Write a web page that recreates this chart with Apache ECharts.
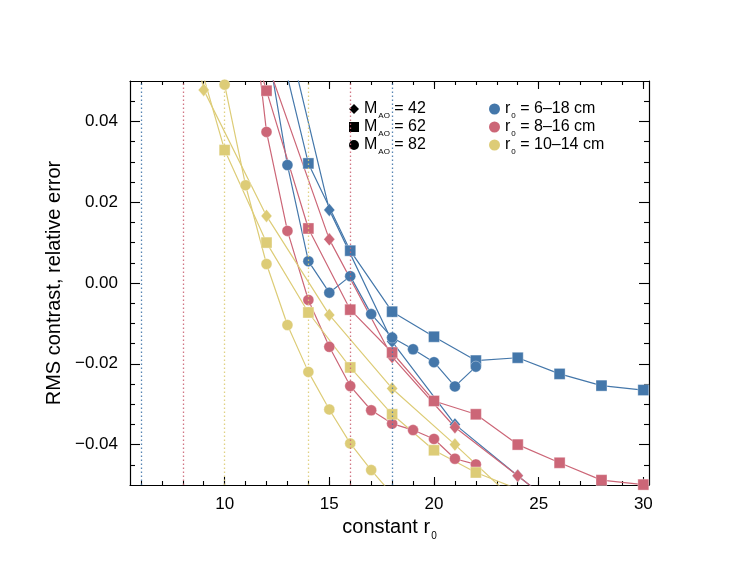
<!DOCTYPE html>
<html><head><meta charset="utf-8">
<script src="https://cdn.jsdelivr.net/npm/echarts@6/dist/echarts.min.js"></script>
<style>html,body{margin:0;padding:0;background:#fff}#c{width:747px;height:578px}</style>
</head><body><div id="c"></div>
<script>
// ---- data ----
const blueDx = [12, 15, 18, 21, 24, 27];
const blueDy = [0.083, 0.0181, -0.0145, -0.0350, -0.0477, -0.060];
const blueSx = [12, 14, 16, 18, 20, 22, 24, 26, 28, 30];
const blueSy = [0.0725, 0.0296, 0.0080, -0.0071, -0.0133, -0.0192, -0.0185, -0.0225, -0.0254, -0.0265];
const blueCx = [12, 13, 14, 15, 16, 17, 18, 19, 20, 21, 22];
const blueCy = [0.060, 0.0292, 0.0054, -0.0024, 0.0017, -0.0077, -0.0135, -0.0164, -0.0196, -0.0256, -0.0207];

const redDx = [12, 15, 18, 21, 24, 27];
const redDy = [0.055, 0.0108, -0.0183, -0.0357, -0.0477, -0.060];
const redSx = [10, 12, 14, 16, 18, 20, 22, 24, 26, 28, 30];
const redSy = [0.082, 0.0476, 0.0135, -0.0066, -0.0172, -0.0292, -0.0325, -0.0400, -0.0445, -0.0488, -0.0499];
const redCx = [11, 12, 13, 14, 15, 16, 17, 18, 19, 20, 21, 22];
const redCy = [0.083, 0.0374, 0.0129, -0.0042, -0.0158, -0.0255, -0.0315, -0.0348, -0.0364, -0.0386, -0.0435, -0.0449];

const yelDx = [6, 9, 12, 15, 18, 21, 24];
const yelDy = [0.123, 0.0478, 0.0166, -0.0079, -0.0261, -0.0400, -0.0545];
const yelSx = [8, 10, 12, 14, 16, 18, 20, 22, 24];
const yelSy = [0.069, 0.0329, 0.0100, -0.0073, -0.0209, -0.0325, -0.0414, -0.0469, -0.051];
const yelCx = [9, 10, 11, 12, 13, 14, 15, 16, 17, 18];
const yelCy = [0.080, 0.0491, 0.0242, 0.0047, -0.0104, -0.0220, -0.0313, -0.0397, -0.0463, -0.0523];

// r0 range end points (dotted verticals)
const blueRange = [6, 18];
const redRange = [8, 16];
const yelRange = [10, 14];

// axes
const xMajor = [10, 15, 20, 25, 30];
const xMinor = [6, 7, 8, 9, 10, 11, 12, 13, 14, 15, 16, 17, 18, 19, 20, 21, 22, 23, 24, 25, 26, 27, 28, 29, 30];
const yMajor = [-0.04, -0.02, 0, 0.02, 0.04];
const yMinor = [-0.045, -0.035, -0.03, -0.025, -0.015, -0.01, -0.005, 0.005, 0.01, 0.015, 0.025, 0.03, 0.035, 0.045];

// legend
const mValues = ['42', '62', '82'];
const rRanges = ['6\u201318', '8\u201316', '10\u201314'];

// ---- chart ----
const X_MIN = 5.48, X_MAX = 30.27, Y_MIN = -0.05, Y_MAX = 0.05;
const FONT = '"Liberation Sans", Arial, Helvetica, sans-serif';
const BLUE = '#4477AA', RED = '#CC6677', YEL = '#DDCC77';
const zip = (xs, ys) => xs.map((x, i) => [x, ys[i]]);

function xAx(grid, pos, ticks, len, withLabels) {
  return {
    type: 'value', gridIndex: grid, position: pos, min: X_MIN, max: X_MAX,
    axisLine: { show: grid === 0, onZero: false, lineStyle: { color: '#000', width: 1.2 } },
    axisTick: { show: true, inside: true, length: len, customValues: ticks, lineStyle: { color: '#000', width: 1.1 } },
    axisLabel: withLabels ? { show: true, customValues: xMajor, fontSize: 17, color: '#000', margin: 11, fontFamily: FONT } : { show: false },
    splitLine: { show: false }
  };
}
function yAx(grid, pos, ticks, len, withLabels) {
  return {
    type: 'value', gridIndex: grid, position: pos, min: Y_MIN, max: Y_MAX,
    axisLine: { show: grid === 0, onZero: false, lineStyle: { color: '#000', width: 1.2 } },
    axisTick: { show: true, inside: true, length: len, customValues: ticks, lineStyle: { color: '#000', width: 1.1 } },
    axisLabel: withLabels ? {
      show: true, customValues: yMajor, fontSize: 17, color: '#000', margin: 12, fontFamily: FONT,
      formatter: v => (v < -1e-9 ? '\u2212' : '') + Math.abs(v).toFixed(2)
    } : { show: false },
    splitLine: { show: false }
  };
}

const xAxes = [xAx(0, 'bottom', xMajor, 8, true), xAx(0, 'top', xMajor, 8, false),
               xAx(1, 'bottom', xMinor, 4, false), xAx(1, 'top', xMinor, 4, false)];
Object.assign(xAxes[0], {
  name: 'constant r{s|0}', nameLocation: 'middle', nameGap: 32,
  nameTextStyle: { fontSize: 20, color: '#000', fontFamily: FONT,
    rich: { s: { fontSize: 10, color: '#000', fontFamily: FONT, verticalAlign: 'bottom', padding: [0, 0, -3, 1] } } }
});
const yAxes = [yAx(0, 'left', yMajor, 10, true), yAx(0, 'right', yMajor, 10, false),
               yAx(1, 'left', yMinor, 5, false), yAx(1, 'right', yMinor, 5, false)];
Object.assign(yAxes[0], {
  name: 'RMS contrast, relative error', nameLocation: 'middle', nameGap: 65,
  nameTextStyle: { fontSize: 20, color: '#000', fontFamily: FONT }
});
xAxes.forEach((a, i) => a.id = 'x' + i);
yAxes.forEach((a, i) => a.id = 'y' + i);

function dataSeries(name, xs, ys, color, symbol, size, range) {
  const s = {
    type: 'line', name: name, xAxisIndex: 0, yAxisIndex: 0,
    data: zip(xs, ys), symbol: symbol, symbolSize: size, showSymbol: true,
    lineStyle: { color: color, width: 1.2 },
    itemStyle: { color: color, borderColor: 'rgba(255,255,255,0.45)', borderWidth: 0.8 },
    emphasis: { disabled: true }, animation: false, clip: true
  };
  if (range) {
    s.markLine = {
      silent: true, symbol: 'none', label: { show: false }, animation: false,
      lineStyle: { color: color, width: 1.3, type: [1.5, 2.5], opacity: 0.9 },
      data: range.map(v => ({ xAxis: v }))
    };
  }
  return s;
}

const series = [
  dataSeries('b42', blueDx, blueDy, BLUE, 'diamond', [11, 13], blueRange),
  dataSeries('b62', blueSx, blueSy, BLUE, 'rect', 11),
  dataSeries('b82', blueCx, blueCy, BLUE, 'circle', 11),
  dataSeries('r42', redDx, redDy, RED, 'diamond', [11, 13], redRange),
  dataSeries('r62', redSx, redSy, RED, 'rect', 11),
  dataSeries('r82', redCx, redCy, RED, 'circle', 11),
  dataSeries('y42', yelDx, yelDy, YEL, 'diamond', [11, 13], yelRange),
  dataSeries('y62', yelSx, yelSy, YEL, 'rect', 11),
  dataSeries('y82', yelCx, yelCy, YEL, 'circle', 11),
];
// legend-only series (scatter, no data)
const mNames = mValues.map(v => 'M' + v);
const rNames = rRanges.map((v, i) => 'R' + i);
const mSyms = ['diamond', 'rect', 'circle'];
mNames.forEach((n, i) => series.push({ type: 'scatter', name: n, data: [], symbol: mSyms[i], itemStyle: { color: '#000', opacity: 1 } }));
[BLUE, RED, YEL].forEach((c, i) => series.push({ type: 'scatter', name: rNames[i], data: [], symbol: 'circle', itemStyle: { color: c, opacity: 1 } }));

const legText = {};
mNames.forEach((n, i) => legText[n] = 'M{s|AO} = ' + mValues[i]);
rNames.forEach((n, i) => legText[n] = 'r{s|0} = ' + rRanges[i] + ' cm');
const legStyle = {
  fontSize: 16, color: '#000', fontFamily: FONT, lineHeight: 18,
  rich: { s: { fontSize: 8, color: '#000', fontFamily: FONT, verticalAlign: 'bottom', padding: [0, 0, -2, 1] } }
};

const option = {
  backgroundColor: '#fff',
  animation: false,
  grid: [
    { left: 130, top: 81, width: 519, height: 404, containLabel: false },
    { left: 130, top: 81, width: 519, height: 404, containLabel: false }
  ],
  xAxis: xAxes,
  yAxis: yAxes,
  legend: [
    { left: 344, top: 95, orient: 'vertical', itemWidth: 10, itemHeight: 10, itemGap: -2, selectedMode: false,
      data: mNames.map((n, i) => ({ name: n, icon: mSyms[i], itemStyle: { opacity: 1 } })), formatter: n => legText[n], textStyle: legStyle },
    { left: 484, top: 95, orient: 'vertical', itemWidth: 11, itemHeight: 11, itemGap: -2, selectedMode: false,
      data: rNames.map(n => ({ name: n, icon: 'circle', itemStyle: { opacity: 1 } })), formatter: n => legText[n], textStyle: legStyle }
  ],
  series: series
};
const chart = echarts.init(document.getElementById('c'), null, { renderer: 'canvas' });
chart.setOption(option);
</script></body></html>
